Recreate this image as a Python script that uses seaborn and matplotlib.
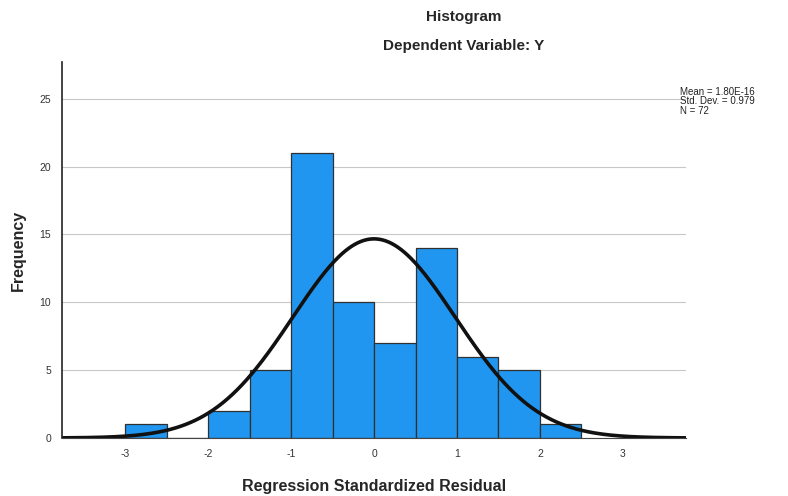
import numpy as np
import pandas as pd
import matplotlib
matplotlib.use("Agg")
import matplotlib.pyplot as plt
import seaborn as sns

# bin edges (width 0.5) and frequency per bin
bin_left = [-3.0, -2.5, -2.0, -1.5, -1.0, -0.5, 0.0, 0.5, 1.0, 1.5, 2.0]
counts = [1, 0, 2, 5, 21, 10, 7, 14, 6, 5, 1]
bin_width = 0.5
mean_val = 1.80e-16
std_val = 0.979
n_obs = 72

sns.set_style("white")
plt.rcParams['font.family'] = ['Liberation Sans', 'DejaVu Sans']
plt.rcParams['axes.unicode_minus'] = False

df = pd.DataFrame({"resid": np.array(bin_left) + bin_width / 2, "freq": counts})
edges = list(bin_left) + [bin_left[-1] + bin_width]

fig = plt.figure(figsize=(7.88, 4.96), dpi=100)
ax = fig.add_axes([0.0787, 0.117, 0.7919, 0.758])

sns.histplot(data=df, x="resid", weights="freq", bins=edges, ax=ax,
             color="#2196F0", alpha=1.0, edgecolor="#303030", linewidth=0.9)

# fitted normal curve
xs = np.linspace(-3.76, 3.76, 400)
ys = n_obs * bin_width * np.exp(-0.5 * ((xs - mean_val) / std_val) ** 2) / (std_val * np.sqrt(2 * np.pi))
sns.lineplot(x=xs, y=ys, ax=ax, color="#111111", linewidth=2.6)

ax.set_xlim(-3.76, 3.76)
ax.set_ylim(0, 27.7)
ax.set_yticks([0, 5, 10, 15, 20, 25])
ax.set_xticks([-3, -2, -1, 0, 1, 2, 3])
ax.yaxis.grid(True, color="#c8c8c8", linewidth=0.8)
ax.set_axisbelow(True)
for s in ["top", "right"]:
    ax.spines[s].set_visible(False)
ax.spines["left"].set_color("#222222")
ax.spines["left"].set_linewidth(1.2)
ax.spines["bottom"].set_color("#444444")
ax.spines["bottom"].set_linewidth(0.8)
ax.tick_params(axis="both", length=0, labelsize=7.5, colors="#333333", pad=8)

ax.set_xlabel("Regression Standardized Residual", fontsize=11.5, fontweight="bold", labelpad=14)
ax.set_ylabel("Frequency", fontsize=11.5, fontweight="bold", labelpad=10)

fig.text(0.588, 0.965, "Histogram", ha="center", va="center", fontsize=11, fontweight="bold")
fig.text(0.588, 0.907, "Dependent Variable: Y", ha="center", va="center", fontsize=11, fontweight="bold")

fig.text(0.863, 0.825, "Mean = 1.80E-16\nStd. Dev. = 0.979\nN = 72",
         ha="left", va="top", fontsize=7, color="#222222", linespacing=0.95)

fig.savefig("out.png", dpi=100)
